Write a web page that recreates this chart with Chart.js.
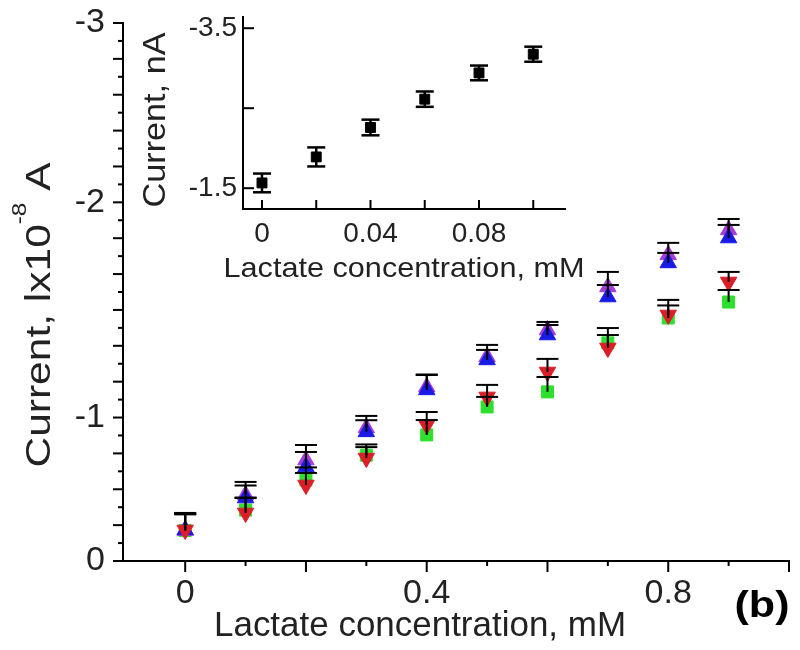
<!DOCTYPE html>
<html>
<head>
<meta charset="utf-8">
<script src="https://cdn.jsdelivr.net/npm/chart.js@4.4.0/dist/chart.umd.min.js"></script>
<style>
  body { margin: 0; background: #fff; }
  #wrap { position: relative; width: 800px; height: 650px; background: #fff; }
  #inset { position: absolute; left: 0; top: 0; }
</style>
</head>
<body>
<div id="wrap">
  <canvas id="main" width="800" height="650"></canvas>
  <canvas id="inset" width="600" height="290"></canvas>
</div>
<script>
// main plot data (current in units of 1e-8 A)
const concMain = [0, 0.1, 0.2, 0.3, 0.4, 0.5, 0.6, 0.7, 0.8, 0.9];
const purpleVals = [-0.17, -0.368, -0.563, -0.742, -0.97, -1.138, -1.288, -1.528, -1.707, -1.846];
const purpleErr = [0.095, 0.073, 0.084, 0.067, 0.07, 0.067, 0.045, 0.084, 0.067, 0.061];
const blueVals = [-0.173, -0.351, -0.524, -0.72, -0.954, -1.121, -1.26, -1.472, -1.662, -1.801];
const blueErr = [0.09, 0.07, 0.084, 0.065, 0.083, 0.056, 0.056, 0.067, 0.056, 0.073];
const redVals = [-0.173, -0.268, -0.424, -0.574, -0.758, -0.915, -1.054, -1.188, -1.372, -1.556];
const redErr = [0.095, 0.083, 0.067, 0.061, 0.073, 0.067, 0.073, 0.072, 0.084, 0.056];
const greenVals = [-0.17, -0.284, -0.452, -0.59, -0.703, -0.859, -0.943, -1.216, -1.355, -1.444];
const greenErr = [0.09, 0.07, 0.07, 0.06, 0.083, 0.056, 0.083, 0.083, 0.07, 0.067];

// inset data (nA)
const concInset = [0, 0.02, 0.04, 0.06, 0.08, 0.1];
const insetVals = [-1.566, -1.891, -2.259, -2.613, -2.941, -3.175];
const insetErr = [0.117, 0.119, 0.098, 0.096, 0.092, 0.094];

// ticks and tick labels
const mainXTicks = [0, 0.1, 0.2, 0.3, 0.4, 0.5, 0.6, 0.7, 0.8, 0.9, 1.0];
const mainXLabelVals = [0, 0.4, 0.8];
const mainXLabels = ['0', '0.4', '0.8'];
const mainYTicks = [-3, -2.9, -2.8, -2.7, -2.6, -2.5, -2.4, -2.3, -2.2, -2.1, -2, -1.9, -1.8, -1.7, -1.6, -1.5,
  -1.4, -1.3, -1.2, -1.1, -1, -0.9, -0.8, -0.7, -0.6, -0.5, -0.4, -0.3, -0.2, -0.1, 0];
// the picture puts its "-1" label on the eighth tick up from zero
const mainYLabelVals = [-3, -2, -0.8, 0];
const mainYLabels = ['-3', '-2', '-1', '0'];
const insetXTicks = [0, 0.02, 0.04, 0.06, 0.08, 0.1];
const insetXLabelVals = [0, 0.04, 0.08];
const insetXLabels = ['0', '0.04', '0.08'];
const insetYTicks = [-3.5, -2.5, -1.5];
const insetYLabelVals = [-3.5, -1.5];
const insetYLabels = ['-3.5', '-1.5'];

const FONT = '"Liberation Sans", Arial, Helvetica, sans-serif';
const TXT = '#222';

function labelFor(vals, texts, v) {
  const i = vals.findIndex(t => Math.abs(t - v) < 1e-6);
  return i < 0 ? '' : texts[i];
}

function pts(xs, ys) {
  return xs.map((x, i) => ({ x: x, y: ys[i] }));
}

// text squeezed/stretched to the width seen in the picture
function drawText(ctx, parts, cx, cy, rot, target, color) {
  ctx.save();
  ctx.fillStyle = color || TXT;
  ctx.textBaseline = 'alphabetic';
  ctx.textAlign = 'left';
  let total = 0;
  parts.forEach(p => { ctx.font = p.font; p.w = ctx.measureText(p.t).width; total += p.w; });
  ctx.translate(cx, cy);
  ctx.rotate(rot);
  ctx.scale(target / total, 1);
  let x = -total / 2;
  parts.forEach(p => { ctx.font = p.font; ctx.fillText(p.t, x, p.dy); x += p.w; });
  ctx.restore();
}

function line(ctx, x1, y1, x2, y2) {
  ctx.beginPath();
  ctx.moveTo(x1, y1);
  ctx.lineTo(x2, y2);
  ctx.stroke();
}

const mainDecor = {
  id: 'mainDecor',
  afterDatasetsDraw(chart) {
    const ctx = chart.ctx, ys = chart.scales.y;
    ctx.save();
    ctx.strokeStyle = '#000';
    ctx.lineWidth = 2;
    chart.data.datasets.forEach((ds, di) => {
      chart.getDatasetMeta(di).data.forEach((el, i) => {
        const top = ys.getPixelForValue(ds.data[i].y - ds.errors[i]);
        line(ctx, el.x, el.y, el.x, top);
        line(ctx, el.x - 11, top, el.x + 11, top);
      });
    });
    ctx.restore();
  },
  afterDraw(chart) {
    const ctx = chart.ctx, xs = chart.scales.x, ys = chart.scales.y, a = chart.chartArea;
    ctx.save();
    ctx.strokeStyle = '#000';
    ctx.lineWidth = 2;
    ys.ticks.forEach(t => {
      const p = ys.getPixelForValue(t.value);
      const len = Math.round(Math.abs(t.value) * 10) % 2 === 0 ? 10 : 5;
      line(ctx, a.left - len, p, a.left, p);
    });
    xs.ticks.forEach(t => {
      const p = xs.getPixelForValue(t.value);
      const len = Math.round(t.value * 10) % 2 === 0 ? 11 : 5;
      line(ctx, p, a.bottom, p, a.bottom + len);
    });
    ctx.restore();
    drawText(ctx, [
      { t: 'Current, lx10', font: '35px ' + FONT, dy: 12.5 },
      { t: '-8', font: '20px ' + FONT, dy: -11 },
      { t: ' A', font: '35px ' + FONT, dy: 12.5 }
    ], 37, 315, -Math.PI / 2, 305);
    drawText(ctx, [{ t: 'Lactate concentration, mM', font: '35px ' + FONT, dy: 12.5 }], 420, 623, 0, 412);
    drawText(ctx, [{ t: '(b)', font: 'bold 36px ' + FONT, dy: 9 }], 762, 608, 0, 55, '#000');
  }
};

const insetDecor = {
  id: 'insetDecor',
  afterDatasetsDraw(chart) {
    const ctx = chart.ctx, ys = chart.scales.y;
    ctx.save();
    ctx.strokeStyle = '#000';
    ctx.lineWidth = 2.5;
    chart.data.datasets.forEach((ds, di) => {
      chart.getDatasetMeta(di).data.forEach((el, i) => {
        const lo = ys.getPixelForValue(ds.data[i].y + ds.errors[i]);
        const hi = ys.getPixelForValue(ds.data[i].y - ds.errors[i]);
        line(ctx, el.x, lo, el.x, hi);
        line(ctx, el.x - 9, lo, el.x + 9, lo);
        line(ctx, el.x - 9, hi, el.x + 9, hi);
      });
    });
    ctx.restore();
  },
  afterDraw(chart) {
    const ctx = chart.ctx, xs = chart.scales.x, ys = chart.scales.y, a = chart.chartArea;
    ctx.save();
    ctx.strokeStyle = '#000';
    ctx.lineWidth = 2;
    ys.ticks.forEach(t => {
      const p = ys.getPixelForValue(t.value);
      line(ctx, a.left, p, a.left + 11, p);
    });
    xs.ticks.forEach(t => {
      const p = xs.getPixelForValue(t.value);
      line(ctx, p, a.bottom, p, a.bottom - 9);
    });
    ctx.restore();
    drawText(ctx, [{ t: 'Current, nA', font: '32px ' + FONT, dy: 11.5 }], 153, 120, -Math.PI / 2, 175);
    drawText(ctx, [{ t: 'Lactate concentration, mM', font: '28px ' + FONT, dy: 10 }], 404, 267, 0, 361);
  }
};

function axisCommon(size, pad, labelVals, labels) {
  return {
    grid: { drawOnChartArea: false, drawTicks: false },
    border: { color: '#000', width: 2 },
    ticks: {
      autoSkip: false, maxRotation: 0, padding: pad, color: TXT,
      font: { family: FONT, size: size },
      callback: v => labelFor(labelVals, labels, v)
    }
  };
}

// fixed axis box sizes so the plot area lands where it is in the picture
function fixX(h) {
  return s => { s.height = h; s.paddingLeft = 0; s.paddingRight = 0; };
}
function fixY(w) {
  return s => { s.width = w; s.paddingTop = 0; s.paddingBottom = 0; };
}

function marker(label, color, style, rot, vals, errs, r) {
  return {
    label: label,
    data: pts(concMain, vals),
    errors: errs,
    pointStyle: style,
    rotation: rot,
    pointRadius: r,
    backgroundColor: color,
    borderColor: color,
    borderWidth: 1,
    clip: false
  };
}

new Chart(document.getElementById('main'), {
  type: 'scatter',
  data: {
    // first dataset is drawn on top
    datasets: [
      marker('red', '#dc1e28', 'triangle', 180, redVals, redErr, 9.5),
      marker('blue', '#1a1ae6', 'triangle', 0, blueVals, blueErr, 9.5),
      marker('purple', '#a63cd6', 'triangle', 0, purpleVals, purpleErr, 9.5),
      marker('green', '#2ee02e', 'rect', 0, greenVals, greenErr, 8.5)
    ]
  },
  options: {
    responsive: false,
    animation: false,
    layout: { padding: { top: 23, right: 11, left: 0, bottom: 0 } },
    plugins: { legend: { display: false }, tooltip: { enabled: false } },
    scales: {
      x: Object.assign(axisCommon(34, 12, mainXLabelVals, mainXLabels), {
        type: 'linear', min: -0.103, max: 1.0,
        afterBuildTicks: s => { s.ticks = mainXTicks.map(v => ({ value: v })); },
        afterFit: fixX(89)
      }),
      y: Object.assign(axisCommon(34, 18, mainYLabelVals, mainYLabels), {
        type: 'linear', min: -3, max: 0, reverse: true,
        afterBuildTicks: s => { s.ticks = mainYTicks.map(v => ({ value: v })); },
        afterFit: fixY(123)
      })
    }
  },
  plugins: [mainDecor]
});

new Chart(document.getElementById('inset'), {
  type: 'scatter',
  data: {
    datasets: [{
      label: 'inset',
      data: pts(concInset, insetVals),
      errors: insetErr,
      pointStyle: 'rect',
      pointRadius: 7,
      backgroundColor: '#000',
      borderColor: '#000',
      borderWidth: 1,
      clip: false
    }]
  },
  options: {
    responsive: false,
    animation: false,
    layout: { padding: { top: 17, right: 35, left: 0, bottom: 0 } },
    plugins: { legend: { display: false }, tooltip: { enabled: false } },
    scales: {
      x: Object.assign(axisCommon(28, 8, insetXLabelVals, insetXLabels), {
        type: 'linear', min: -0.007, max: 0.1117,
        afterBuildTicks: s => { s.ticks = insetXTicks.map(v => ({ value: v })); },
        afterFit: fixX(81)
      }),
      y: Object.assign(axisCommon(28, 6, insetYLabelVals, insetYLabels), {
        type: 'linear', min: -3.64, max: -1.24, reverse: true,
        afterBuildTicks: s => { s.ticks = insetYTicks.map(v => ({ value: v })); },
        afterFit: fixY(243)
      })
    }
  },
  plugins: [insetDecor]
});
</script>
</body>
</html>
